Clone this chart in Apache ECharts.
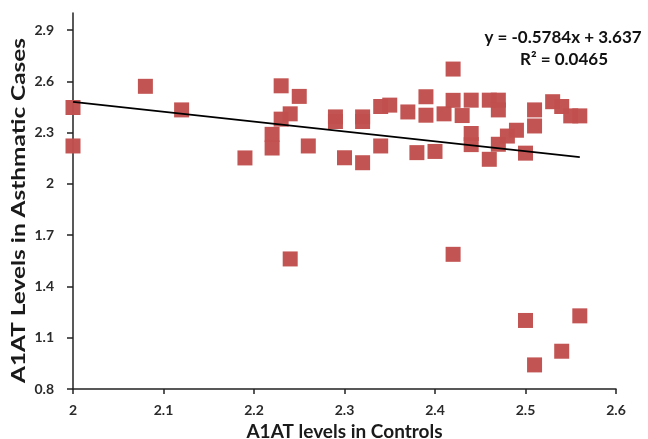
<!DOCTYPE html>
<html>
<head>
<meta charset="utf-8">
<script src="https://cdn.jsdelivr.net/npm/echarts@6/dist/echarts.min.js"></script>
<style>
html,body{margin:0;padding:0;background:#fff;}
#chart{width:648px;height:439px;}
</style>
</head>
<body>
<div id="chart"></div>
<script>
// Controls (x) and asthmatic cases (y) A1AT levels
var controls = [2.00, 2.00, 2.08, 2.12, 2.19, 2.22, 2.22, 2.23, 2.23, 2.24, 2.24, 2.25, 2.26, 2.29, 2.29, 2.30, 2.32, 2.32, 2.32,
  2.34, 2.34, 2.35, 2.37, 2.38, 2.39, 2.39, 2.40, 2.41, 2.42, 2.42, 2.42, 2.43, 2.44, 2.44, 2.44, 2.46, 2.46, 2.47, 2.47, 2.47,
  2.48, 2.49, 2.50, 2.50, 2.51, 2.51, 2.51, 2.53, 2.54, 2.54, 2.55, 2.56, 2.56];
var cases = [2.447, 2.222, 2.571, 2.433, 2.152, 2.290, 2.210, 2.574, 2.379, 2.410, 1.561, 2.512, 2.222, 2.392, 2.365, 2.153, 2.392, 2.365, 2.124,
  2.453, 2.222, 2.461, 2.421, 2.183, 2.510, 2.402, 2.190, 2.410, 2.672, 2.489, 1.588, 2.400, 2.490, 2.295, 2.230, 2.490, 2.144, 2.490, 2.433, 2.232,
  2.280, 2.314, 2.180, 1.201, 2.433, 2.339, 0.941, 2.481, 2.453, 1.021, 2.398, 2.398, 1.228];
var trendSlope = -0.5784;
var trendIntercept = 3.637;
var trendRange = [2.0, 2.56];
var equationText = 'y = -0.5784x + 3.637';
var r2Text = 'R\u00b2 = 0.0465';
var xTitle = 'A1AT levels in Controls';
var yTitle = 'A1AT Levels in Asthmatic Cases';

var points = controls.map(function (x, i) { return [x, cases[i]]; });
var trend = trendRange.map(function (x) { return [x, trendSlope * x + trendIntercept]; });

var FONT = 'Lato, "Open Sans", sans-serif';
var yTitleFont = 'bold 18px ' + FONT;
// the y title in the reference is stretched along its length to ~345px
var cv = document.createElement('canvas').getContext('2d');
cv.font = yTitleFont;
var yTitleStretch = 345 / cv.measureText(yTitle).width;

var chart = echarts.init(document.getElementById('chart'), null, {renderer: 'canvas'});
chart.setOption({
  animation: false,
  backgroundColor: '#ffffff',
  grid: {left: 73, right: 32, top: 13, bottom: 50, containLabel: false, outerBoundsMode: 'none'},
  xAxis: {
    type: 'value', min: 2, max: 2.6, interval: 0.1,
    name: xTitle, nameLocation: 'middle', nameGap: 31,
    nameTextStyle: {fontFamily: FONT, fontWeight: 'bold', fontSize: 19, color: '#1a1a1a'},
    axisLine: {show: true, onZero: false, lineStyle: {color: '#222', width: 1.5}},
    axisTick: {show: true, inside: false, length: 5, lineStyle: {color: '#222', width: 1.5}},
    axisLabel: {fontFamily: FONT, fontWeight: 'bold', fontSize: 14, color: '#2a2a2a', margin: 14},
    splitLine: {show: false}
  },
  yAxis: {
    type: 'value', min: 0.8, max: 3.0, interval: 0.3,
    axisLine: {show: true, onZero: false, lineStyle: {color: '#222', width: 1.5}},
    axisTick: {show: true, inside: false, length: 6, lineStyle: {color: '#222', width: 1.5}},
    axisLabel: {fontFamily: FONT, fontWeight: 'bold', fontSize: 14, color: '#2a2a2a', margin: 19, showMaxLabel: false,
      formatter: function (v) { return v > 2.95 ? '' : String(Math.round(v * 10) / 10); }},
    splitLine: {show: false}
  },
  graphic: [
    {type: 'text', x: 19, y: 210.5, rotation: Math.PI / 2, scaleX: yTitleStretch,
      style: {text: yTitle, font: yTitleFont, fill: '#1a1a1a', align: 'center', verticalAlign: 'middle'}},
    {type: 'text', x: 563, y: 38, style: {text: equationText, font: 'bold 17px ' + FONT, fill: '#111', align: 'center', verticalAlign: 'middle'}},
    {type: 'text', x: 564, y: 60, style: {text: r2Text, font: 'bold 17px ' + FONT, fill: '#111', align: 'center', verticalAlign: 'middle'}}
  ],
  series: [
    {
      type: 'scatter', data: points, symbol: 'rect', symbolSize: 15,
      itemStyle: {color: '#c0504d', opacity: 0.97}
    },
    {
      type: 'line', data: trend, showSymbol: false, symbol: 'none',
      lineStyle: {color: '#000', width: 1.8}, z: 3
    }
  ]
});
</script>
</body>
</html>
